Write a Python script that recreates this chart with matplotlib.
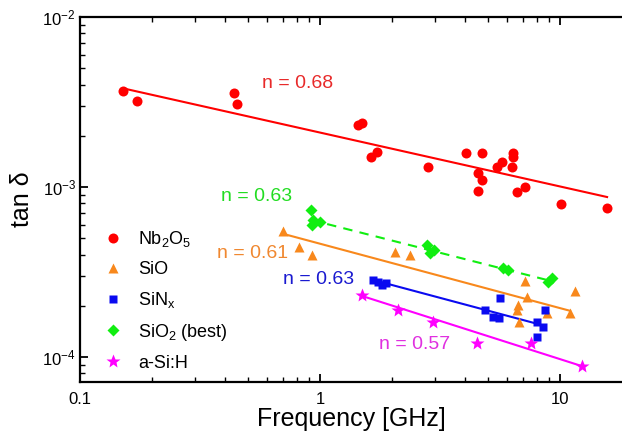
import matplotlib
matplotlib.use("Agg")
import matplotlib.pyplot as plt
from matplotlib.ticker import LogLocator, NullFormatter

plt.rcParams['font.family'] = ['Liberation Sans', 'DejaVu Sans']
plt.rcParams['mathtext.fontset'] = 'custom'
plt.rcParams['mathtext.rm'] = 'Liberation Sans'
plt.rcParams['mathtext.it'] = 'Liberation Sans'

# Nb2O5
nb_f = [0.151, 0.172, 0.440, 0.452, 1.445, 1.49, 1.63, 1.73, 2.81, 4.06, 4.72, 4.57,
        4.72, 4.57, 5.45, 5.75, 6.39, 6.39, 6.30, 6.60, 7.15, 10.07, 15.7]
nb_tan = [3.69e-3, 3.22e-3, 3.59e-3, 3.09e-3, 2.32e-3, 2.39e-3, 1.51e-3, 1.60e-3, 1.31e-3,
          1.59e-3, 1.59e-3, 1.21e-3, 1.10e-3, 9.47e-4, 1.32e-3, 1.40e-3, 1.59e-3, 1.51e-3,
          1.32e-3, 9.38e-4, 9.96e-4, 7.94e-4, 7.55e-4]
nb_fit_f = [0.157, 15.7]
nb_fit_tan = [3.76e-3, 8.73e-4]

# SiO
sio_f = [0.699, 0.820, 0.923, 2.05, 2.37, 7.15, 7.27, 11.55, 6.70, 6.63, 6.75, 8.85, 11.0]
sio_tan = [5.51e-4, 4.45e-4, 3.98e-4, 4.13e-4, 3.98e-4, 2.81e-4, 2.26e-4, 2.45e-4,
           2.02e-4, 1.89e-4, 1.61e-4, 1.81e-4, 1.82e-4]
sio_fit_f = [0.714, 11.0]
sio_fit_tan = [5.27e-4, 1.87e-4]

# SiNx
sin_f = [1.67, 1.75, 1.81, 1.88, 5.62, 4.87, 5.27, 5.59, 8.66, 8.05, 8.52, 8.00]
sin_tan = [2.84e-4, 2.77e-4, 2.65e-4, 2.71e-4, 2.21e-4, 1.89e-4, 1.73e-4, 1.70e-4,
           1.89e-4, 1.61e-4, 1.51e-4, 1.31e-4]
sin_fit_f = [1.71, 7.74]
sin_fit_tan = [2.81e-4, 1.59e-4]

# SiO2 (best)
sio2_f = [0.915, 0.938, 1.0, 0.923, 2.78, 2.97, 2.87, 5.80, 6.09, 8.94, 9.24]
sio2_tan = [7.32e-4, 6.40e-4, 6.25e-4, 5.98e-4, 4.56e-4, 4.26e-4, 4.07e-4, 3.32e-4,
            3.25e-4, 2.77e-4, 2.90e-4]
sio2_fit_f = [0.917, 9.35]
sio2_fit_tan = [6.40e-4, 2.78e-4]

# a-Si:H
asi_f = [1.49, 2.12, 2.95, 4.52, 7.55, 12.3]
asi_tan = [2.32e-4, 1.89e-4, 1.61e-4, 1.21e-4, 1.21e-4, 8.85e-5]
asi_fit_f = [1.49, 12.3]
asi_fit_tan = [2.29e-4, 8.85e-5]

RED, ORANGE, BLUE, GREEN, MAGENTA = '#ff0000', '#f8881c', '#0a0af0', '#11ee11', '#ff00ff'

fig = plt.figure(figsize=(6.22, 4.34), dpi=100)
ax = fig.add_axes([80 / 622, 52 / 434, 542 / 622, 365 / 434])

ax.plot(nb_fit_f, nb_fit_tan, color=RED, lw=1.5)
ax.plot(sio_fit_f, sio_fit_tan, color=ORANGE, lw=1.5)
ax.plot(sin_fit_f, sin_fit_tan, color=BLUE, lw=1.5)
ax.plot(sio2_fit_f, sio2_fit_tan, color=GREEN, lw=1.5, linestyle=(0, (4.5, 3.5)))
ax.plot(asi_fit_f, asi_fit_tan, color=MAGENTA, lw=1.5)

ax.plot(nb_f, nb_tan, 'o', color=RED, ms=7.2, mec='none', label=r'Nb$_2$O$_5$')
ax.plot(sio_f, sio_tan, '^', color=ORANGE, ms=7.5, mec='none', label='SiO')
ax.plot(sin_f, sin_tan, 's', color=BLUE, ms=6, mec='none', label=r'SiN$_\mathrm{x}$')
ax.plot(sio2_f, sio2_tan, 'D', color=GREEN, ms=6.5, mec='none', label=r'SiO$_2$ (best)')
ax.plot(asi_f, asi_tan, '*', color=MAGENTA, ms=10, mec='none', label='a-Si:H')

ax.text(0.806, 4.09e-3, 'n = 0.68', color='#e82a2a', fontsize=14, ha='center', va='center')
ax.text(0.545, 8.77e-4, 'n = 0.63', color='#22dd22', fontsize=14, ha='center', va='center')
ax.text(0.524, 4.09e-4, 'n = 0.61', color='#f08830', fontsize=14, ha='center', va='center')
ax.text(0.99, 2.84e-4, 'n = 0.63', color='#1a1ad0', fontsize=14, ha='center', va='center')
ax.text(2.48, 1.18e-4, 'n = 0.57', color='#e030e0', fontsize=14, ha='center', va='center')

ax.set_xscale('log')
ax.set_yscale('log')
ax.set_xlim(0.1, 10 ** 1.258)
ax.set_ylim(10 ** -4.147, 1e-2)
ax.set_xticks([0.1, 1, 10])
ax.set_xticklabels(['0.1', '1', '10'])
ax.xaxis.set_minor_locator(LogLocator(base=10, subs=range(2, 10)))
ax.xaxis.set_minor_formatter(NullFormatter())
ax.yaxis.set_minor_locator(LogLocator(base=10, subs=range(2, 10)))
ax.yaxis.set_minor_formatter(NullFormatter())

for s in ['left', 'bottom', 'top']:
    ax.spines[s].set_linewidth(1.6)
ax.spines['right'].set_visible(False)
ax.tick_params(which='both', direction='in', top=True, right=False)
ax.tick_params(which='major', length=6, width=1.3, labelsize=12)
ax.tick_params(which='minor', length=3.5, width=1.0)
ax.tick_params(axis='x', which='major', pad=7)
ax.tick_params(axis='y', which='major', pad=3)

ax.set_xlabel('Frequency [GHz]', fontsize=18, labelpad=0)
ax.set_ylabel(r'tan δ', fontsize=18, labelpad=6)

ax.legend(loc='upper left', bbox_to_anchor=(24 / 542, 153 / 365), frameon=False,
          fontsize=13, handlelength=1.0, handletextpad=0.9, labelspacing=0.66,
          borderpad=0, borderaxespad=0, numpoints=1)

fig.savefig('out.png', dpi=100)
